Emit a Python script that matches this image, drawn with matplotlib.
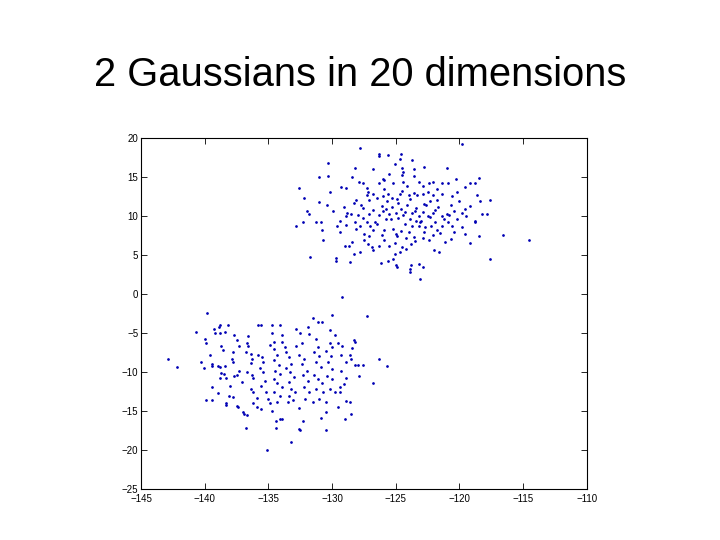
import matplotlib
matplotlib.use("Agg")
import matplotlib.pyplot as plt

# points (x, y)
upper = [
    (-119.8, 19.2), (-127.8, 18.8), (-126.3, 18.0), (-126.3, 17.7), (-125.6, 17.9),
    (-124.6, 18.0), (-124.7, 17.3), (-123.7, 17.2), (-130.3, 16.8), (-125.1, 16.7),
    (-126.8, 16.1), (-128.2, 16.2), (-124.5, 16.2), (-123.6, 16.1), (-122.8, 16.3),
    (-121.0, 16.2), (-130.3, 15.2), (-131.0, 15.0), (-128.4, 15.0), (-126.0, 14.8),
    (-125.9, 14.7), (-125.5, 15.4), (-124.5, 15.3), (-124.4, 15.7), (-123.6, 15.2),
    (-120.3, 14.8), (-118.5, 14.9), (-119.6, 13.8), (-119.2, 14.3), (-118.8, 14.3),
    (-132.6, 13.6), (-129.3, 13.7), (-128.9, 13.6), (-127.9, 14.4), (-127.6, 14.2),
    (-127.3, 13.6), (-126.3, 14.3), (-125.9, 13.5), (-125.2, 14.2), (-124.4, 14.4),
    (-124.1, 13.9), (-123.2, 14.4), (-122.9, 13.9), (-122.4, 14.3), (-122.1, 14.4),
    (-121.4, 14.3), (-120.9, 14.2), (-121.8, 13.5), (-132.2, 12.3), (-130.2, 13.1),
    (-129.9, 10.7), (-129.1, 11.2), (-128.3, 11.7), (-128.1, 12.1), (-127.7, 11.5),
    (-127.1, 12.1), (-127.3, 12.7), (-126.8, 12.9), (-126.5, 12.4), (-126.0, 12.6),
    (-125.6, 12.9), (-125.3, 12.4), (-124.9, 12.2), (-124.7, 12.9), (-124.5, 13.3),
    (-124.0, 12.7), (-123.6, 13.0), (-123.3, 12.7), (-122.9, 12.8), (-122.5, 13.1),
    (-122.1, 12.7), (-121.8, 12.1), (-121.4, 12.9), (-120.6, 12.6), (-120.2, 13.1),
    (-120.0, 12.0), (-118.6, 12.7), (-117.6, 12.1), (-118.4, 12.0), (-132.0, 10.7),
    (-131.8, 10.3), (-131.0, 11.8), (-130.4, 11.4), (-130.9, 9.2), (-131.3, 9.3),
    (-132.8, 8.8), (-132.3, 9.2), (-130.8, 8.2), (-130.7, 6.9), (-131.7, 4.8),
    (-129.7, 4.7), (-129.7, 4.3), (-128.6, 4.1), (-128.3, 5.2), (-129.0, 6.2),
    (-128.7, 6.2), (-128.4, 6.7), (-129.6, 8.8), (-129.4, 8.0), (-128.9, 8.9),
    (-128.9, 10.0), (-128.5, 10.3), (-128.0, 10.1), (-127.6, 9.8), (-127.1, 10.3),
    (-127.3, 9.2), (-127.8, 8.8), (-128.1, 8.4), (-127.5, 7.7), (-127.1, 7.5),
    (-126.8, 8.2), (-126.6, 9.2), (-126.3, 10.1), (-126.0, 10.7), (-125.8, 9.7),
    (-125.5, 10.3), (-125.3, 11.2), (-125.0, 10.4), (-124.6, 10.9), (-124.3, 10.6),
    (-124.1, 11.4), (-123.7, 10.4), (-123.5, 10.7), (-123.2, 10.0), (-122.9, 10.5),
    (-122.6, 11.4), (-122.3, 9.9), (-122.1, 10.4), (-121.7, 11.2), (-121.4, 10.0),
    (-121.0, 10.3), (-120.7, 11.4), (-120.4, 10.7), (-119.8, 10.4), (-119.6, 10.9),
    (-119.5, 10.0), (-118.8, 9.2), (-118.8, 9.4), (-117.8, 10.3), (-118.2, 10.3),
    (-118.5, 7.5), (-119.2, 6.6), (-119.6, 7.7), (-119.8, 8.6), (-120.4, 8.0),
    (-120.7, 7.1), (-121.1, 6.7), (-121.6, 5.4), (-122.0, 5.7), (-122.4, 6.9),
    (-122.8, 8.0), (-123.2, 8.7), (-123.6, 7.4), (-123.8, 6.5), (-124.2, 5.8),
    (-124.7, 5.4), (-125.1, 5.2), (-125.5, 6.2), (-125.9, 7.0), (-126.3, 6.2),
    (-126.8, 5.7), (-127.2, 6.5), (-127.8, 5.4), (-126.2, 4.0), (-125.6, 4.3),
    (-125.2, 4.5), (-125.0, 3.7), (-124.9, 3.5), (-123.9, 3.3), (-123.9, 2.9),
    (-123.8, 3.7), (-123.2, 3.9), (-122.9, 3.5), (-123.1, 2.0), (-117.6, 4.5),
    (-116.6, 7.6), (-114.5, 7.0), (-125.2, 8.4), (-125.0, 7.7), (-124.6, 8.1),
    (-124.3, 9.0), (-124.0, 8.0), (-123.7, 8.8), (-123.4, 9.4), (-123.1, 9.2),
    (-122.7, 8.6), (-122.2, 8.8), (-121.8, 8.2), (-121.4, 8.8), (-120.9, 9.2),
    (-120.6, 8.8), (-126.8, 10.8), (-126.1, 11.3), (-125.8, 10.9), (-125.4, 9.6),
    (-124.8, 9.8), (-124.4, 10.2), (-123.9, 9.6), (-123.4, 11.0), (-122.8, 11.6),
    (-122.3, 11.9), (-121.9, 10.8), (-121.2, 9.6), (-120.8, 10.1), (-126.5, 9.0),
    (-127.0, 8.8), (-125.9, 8.3), (-124.9, 7.5), (-124.2, 7.2), (-123.5, 6.8),
    (-122.9, 7.2), (-122.1, 7.6), (-121.5, 7.9), (-126.1, 7.6), (-127.6, 11.0),
    (-128.8, 10.4), (-129.4, 9.4), (-128.2, 9.3), (-125.7, 12.0), (-124.8, 11.7),
    (-123.9, 12.2), (-127.2, 13.1), (-123.0, 9.4), (-122.5, 10.0), (-121.9, 9.3),
    (-120.2, 9.7), (-119.2, 11.3), (-125.1, 6.6), (-124.5, 6.1), (-127.5, 7.0),
    (-126.9, 6.1),
]

lower = [
    (-129.2, -0.4), (-127.3, -2.8),
    (-142.9, -8.3), (-142.2, -9.3), (-140.7, -4.9), (-139.8, -2.4), (-140.3, -8.7),
    (-140.1, -9.5), (-140.0, -5.7), (-139.9, -6.3), (-139.6, -7.8), (-139.4, -9.0),
    (-139.4, -9.2), (-139.9, -13.5), (-139.4, -13.5), (-139.4, -11.9), (-139.0, -12.6),
    (-139.3, -4.4), (-138.9, -4.2), (-138.8, -3.9), (-138.2, -3.9), (-139.2, -5.0),
    (-138.8, -5.0), (-138.4, -4.9), (-138.7, -6.6), (-138.6, -7.2), (-139.0, -9.2),
    (-138.8, -9.3), (-138.4, -9.2), (-138.7, -10.1), (-138.5, -10.2), (-138.3, -10.8),
    (-138.8, -10.8), (-138.3, -14.2), (-138.3, -13.9), (-138.1, -13.1), (-137.8, -13.2),
    (-138.0, -11.7), (-137.9, -8.3), (-137.8, -8.7), (-137.7, -5.2), (-137.5, -5.9),
    (-137.3, -6.6), (-137.8, -7.4), (-137.7, -10.5), (-137.5, -10.3), (-137.3, -9.8),
    (-137.1, -11.2), (-137.5, -14.3), (-137.4, -14.5), (-137.0, -15.1), (-136.7, -15.5),
    (-136.9, -15.4), (-136.8, -17.2), (-136.7, -6.3), (-136.6, -6.6), (-136.8, -7.4),
    (-136.4, -7.6), (-136.3, -8.3), (-136.6, -5.4), (-136.4, -8.8), (-136.7, -10.0),
    (-136.3, -10.3), (-136.2, -10.8), (-136.4, -12.1), (-136.2, -12.5), (-135.9, -13.3),
    (-136.2, -14.0), (-135.9, -14.5), (-135.6, -14.7), (-135.8, -4.0), (-135.6, -3.9),
    (-135.8, -7.8), (-135.5, -8.1), (-135.4, -8.7), (-135.7, -9.5), (-135.4, -10.0),
    (-135.3, -11.1), (-135.6, -11.7), (-135.2, -12.5), (-135.0, -13.4), (-134.9, -14.0),
    (-135.1, -20.0), (-134.9, -6.5), (-134.6, -6.1), (-134.7, -5.0), (-134.7, -4.0),
    (-134.6, -7.0), (-134.3, -7.8), (-134.6, -8.4), (-134.2, -9.1), (-134.5, -9.9),
    (-134.1, -10.2), (-134.6, -10.9), (-134.3, -11.4), (-133.9, -11.9), (-134.6, -12.5),
    (-134.1, -13.0), (-134.3, -13.8), (-134.7, -15.0), (-134.4, -16.3), (-134.4, -17.1),
    (-134.1, -16.0), (-133.9, -16.0), (-134.1, -3.9), (-133.9, -5.2), (-133.9, -6.1),
    (-133.7, -6.7), (-133.6, -7.4), (-133.4, -8.1), (-133.2, -8.9), (-133.6, -9.5),
    (-133.3, -10.0), (-133.0, -10.6), (-133.4, -11.2), (-133.2, -12.1), (-132.9, -12.5),
    (-133.4, -13.0), (-133.1, -13.5), (-133.5, -13.8), (-132.6, -14.6), (-133.2, -18.9),
    (-132.3, -16.3), (-132.6, -17.3), (-132.5, -17.4), (-132.8, -4.5), (-132.5, -5.0),
    (-132.4, -6.2), (-132.8, -6.6), (-132.6, -7.8), (-132.2, -8.3), (-132.4, -9.0),
    (-132.0, -9.8), (-132.3, -10.4), (-131.9, -11.1), (-132.2, -11.9), (-131.8, -12.5),
    (-132.1, -13.4), (-131.5, -13.8), (-131.9, -4.2), (-131.8, -5.1), (-131.5, -3.0),
    (-131.1, -3.5), (-130.8, -3.5), (-131.3, -5.7), (-131.1, -6.8), (-131.4, -7.4),
    (-131.0, -7.9), (-131.3, -8.7), (-130.9, -9.3), (-131.4, -10.3), (-131.1, -10.9),
    (-130.8, -11.4), (-131.3, -12.1), (-130.7, -12.5), (-131.0, -13.4), (-130.5, -13.8),
    (-130.5, -15.1), (-130.9, -15.9), (-130.5, -17.4), (-130.2, -4.6), (-130.0, -2.6),
    (-129.8, -5.2), (-130.2, -6.2), (-130.0, -6.8), (-130.5, -7.3), (-130.1, -7.9),
    (-130.3, -8.7), (-130.0, -9.6), (-130.4, -10.5), (-130.0, -10.9), (-130.2, -12.1),
    (-129.8, -12.5), (-129.4, -12.5), (-129.4, -11.9), (-129.5, -6.2), (-129.2, -6.6),
    (-129.3, -7.8), (-128.9, -8.7), (-129.3, -9.8), (-128.9, -10.8), (-129.1, -11.5),
    (-128.9, -13.7), (-129.0, -16.0), (-129.5, -14.5), (-128.6, -7.8), (-128.5, -8.3),
    (-128.3, -5.9), (-128.4, -6.9), (-128.2, -9.1), (-128.6, -13.8), (-128.5, -15.4),
    (-127.9, -10.5), (-127.6, -9.1), (-126.8, -11.4), (-126.3, -8.3), (-125.7, -9.2),
    (-128.0, -9.1), (-128.2, -6.1),
]

x_ticks = [-145, -140, -135, -130, -125, -120, -115, -110]
y_ticks = [-25, -20, -15, -10, -5, 0, 5, 10, 15, 20]

fig = plt.figure(figsize=(7.2, 5.4), dpi=100)
fig.patch.set_facecolor("white")
ax = fig.add_axes([0.196, 0.094, 0.619, 0.650])

ux = [p[0] for p in upper]
uy = [p[1] for p in upper]
lx = [p[0] for p in lower]
ly = [p[1] for p in lower]
ax.plot(ux, uy, ".", color="#0000b4", markersize=1.9, linestyle="none")
ax.plot(lx, ly, ".", color="#0000b4", markersize=1.9, linestyle="none")

ax.set_xlim(-145, -110)
ax.set_ylim(-25, 20)
ax.set_xticks(x_ticks)
ax.set_yticks(y_ticks)
ax.tick_params(direction="in", length=4, width=0.6, top=True, right=True,
               labelsize=7, pad=2)
ax.tick_params(axis="x", pad=3.5)
for lab in ax.get_xticklabels() + ax.get_yticklabels():
    lab.set_family("Liberation Sans")
for sp in ax.spines.values():
    sp.set_linewidth(0.8)

fig.text(0.5, 0.861, "2 Gaussians in 20 dimensions", ha="center", va="center",
         fontsize=28.7, family="Liberation Sans")

fig.savefig("out.png", dpi=100)
